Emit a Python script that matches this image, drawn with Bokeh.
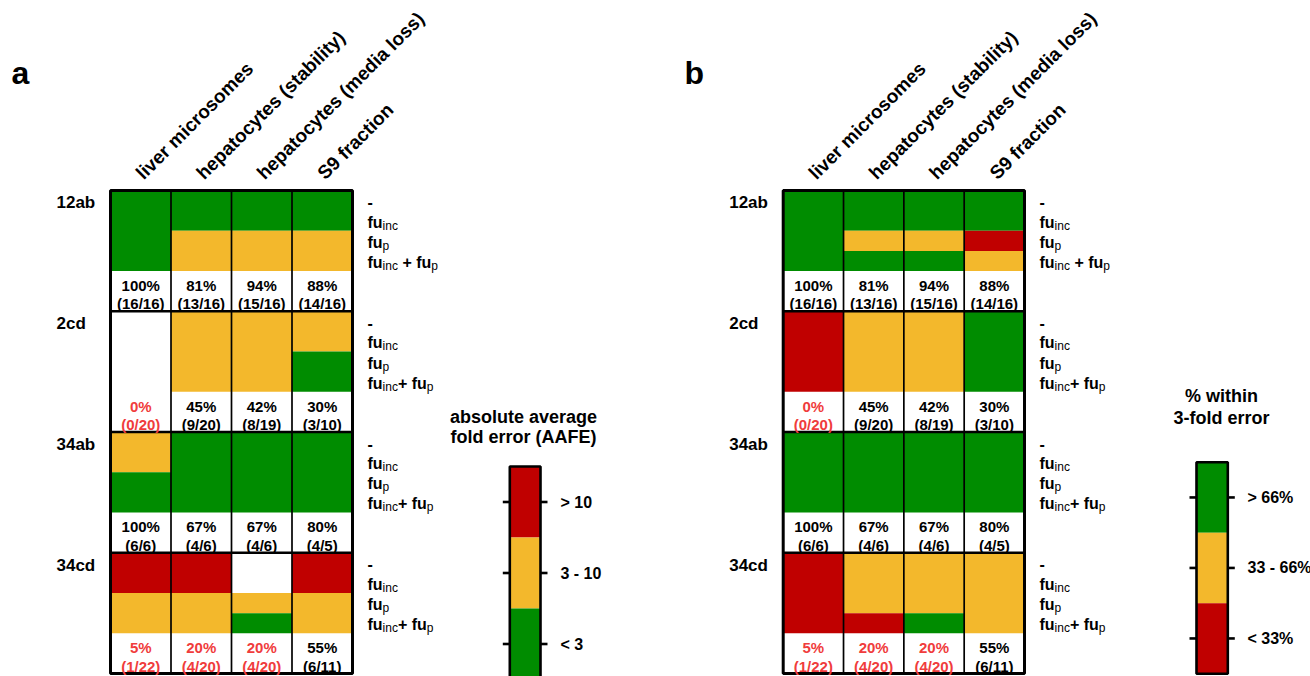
import re
import math
from bokeh.plotting import figure
from bokeh.layouts import row
from bokeh.models import ColumnDataSource, Range1d
from bokeh.core.properties import value
from bokeh.embed import file_html
from bokeh.resources import INLINE

FONT = "Liberation Sans"

# ---------------- data ----------------
columns = ["liver microsomes", "hepatocytes (stability)", "hepatocytes (media loss)", "S9 fraction"]
groups = ["12ab", "2cd", "34ab", "34cd"]
conditions_12ab = ["-", "fu_inc", "fu_p", "fu_inc + fu_p"]
conditions_other = ["-", "fu_inc", "fu_p", "fu_inc+ fu_p"]

# panel a: AAFE class per column (rows: -, fu_inc, fu_p, fu_inc+fu_p); 0 = no value, 1 = "< 3", 2 = "3 - 10", 3 = "> 10"
aafe_12ab = [[1, 1, 1, 1], [1, 1, 2, 2], [1, 1, 2, 2], [1, 1, 2, 2]]
aafe_2cd = [[0, 0, 0, 0], [2, 2, 2, 2], [2, 2, 2, 2], [2, 2, 1, 1]]
aafe_34ab = [[2, 2, 1, 1], [1, 1, 1, 1], [1, 1, 1, 1], [1, 1, 1, 1]]
aafe_34cd = [[3, 3, 2, 2], [3, 3, 2, 2], [0, 0, 2, 1], [3, 3, 2, 2]]
aafe_labels = ["> 10", "3 - 10", "< 3"]
aafe_label_codes = [3, 2, 1]

# panel b: % within 3-fold error; 1 = "> 66%", 2 = "33 - 66%", 3 = "< 33%"
within_12ab = [[1, 1, 1, 1], [1, 1, 2, 1], [1, 1, 2, 1], [1, 1, 3, 2]]
within_2cd = [[3, 3, 3, 3], [2, 2, 2, 2], [2, 2, 2, 2], [1, 1, 1, 1]]
within_34ab = [[1, 1, 1, 1], [1, 1, 1, 1], [1, 1, 1, 1], [1, 1, 1, 1]]
within_34cd = [[3, 3, 3, 3], [2, 2, 2, 3], [2, 2, 2, 1], [2, 2, 2, 2]]
within_labels = ["> 66%", "33 - 66%", "< 33%"]
within_label_codes = [1, 2, 3]

# compounds within 3-fold error per column
hits_12ab = [16, 13, 15, 14]
totals_12ab = [16, 16, 16, 16]
hits_2cd = [0, 9, 8, 3]
totals_2cd = [20, 20, 19, 10]
hits_34ab = [6, 4, 4, 4]
totals_34ab = [6, 6, 6, 5]
hits_34cd = [1, 4, 4, 6]
totals_34cd = [22, 20, 20, 11]
red_12ab = [False, False, False, False]
red_2cd = [True, False, False, False]
red_34ab = [False, False, False, False]
red_34cd = [True, True, True, False]

# ---------------- styles ----------------
GREEN, ORANGE, RED = "#008C00", "#F3B82C", "#C00000"
CODE_COLORS = {1: GREEN, 2: ORANGE, 3: RED}
RED_TEXT = "#F03C3C"

GRID_TOP, GRID_BOTTOM = 190.0, 673.0   # page px
ROWS_PER_GROUP = 6                      # 4 condition rows + 2 text rows
W, H = 655, 676

BOLD_W = {"f": 333, "u": 611, " ": 278, "+": 584, "-": 333}
REG_W = {"i": 222, "n": 556, "c": 500, "p": 556}


def text_width(s, size, table):
    return sum(table.get(ch, 556) for ch in s) * size / 1000.0


def pct_label(h, t):
    return "%d%%" % int(math.floor(100.0 * h / t + 0.5))


def build(spec, codes_by_group, cb_labels, cb_codes):
    ox, oy = spec["origin_x"], 0.0
    Lx = spec["grid_left"] - ox
    ux = (spec["grid_right"] - spec["grid_left"]) / len(columns)
    Ty = GRID_TOP - oy
    n_units = ROWS_PER_GROUP * len(groups)
    uy = (GRID_BOTTOM - GRID_TOP) / n_units

    def X(page_x):
        return (page_x - ox - Lx) / ux

    def Y(page_y):
        return (page_y - oy - Ty) / uy

    p = figure(width=W, height=H,
               x_range=Range1d(-Lx / ux, (W - Lx) / ux),
               y_range=Range1d((H - Ty) / uy, -Ty / uy),
               x_axis_type=None, y_axis_type=None,
               output_backend="svg", toolbar_location=None, min_border=0)
    p.outline_line_color = None
    p.background_fill_color = "white"
    p.border_fill_color = "white"

    # cells (merge runs of equal colour within a column)
    L, R, T, B, C = [], [], [], [], []
    for gi, g in enumerate(groups):
        for ci, col_codes in enumerate(codes_by_group[g]):
            ri = 0
            while ri < len(col_codes):
                code = col_codes[ri]
                rj = ri
                while rj + 1 < len(col_codes) and col_codes[rj + 1] == code:
                    rj += 1
                if code:
                    L.append(ci); R.append(ci + 1)
                    T.append(gi * ROWS_PER_GROUP + ri); B.append(gi * ROWS_PER_GROUP + rj + 1)
                    C.append(CODE_COLORS[code])
                ri = rj + 1
    p.quad(left=L, right=R, top=T, bottom=B, fill_color=C, line_color=None)

    ncol = len(columns)
    p.segment(x0=list(range(1, ncol)), x1=list(range(1, ncol)), y0=0, y1=n_units,
              line_color="black", line_width=1.7)
    seps = [ROWS_PER_GROUP * k for k in range(1, len(groups))]
    p.segment(x0=0, x1=ncol, y0=seps, y1=seps, line_color="black", line_width=2.6)
    p.quad(left=[0], right=[ncol], top=[0], bottom=[n_units], fill_color=None,
           line_color="black", line_width=3)

    # percentage texts
    xs, y1s, y2s, t1, t2, tc = [], [], [], [], [], []
    for gi, g in enumerate(groups):
        hits, totals, reds = stats[g]
        for ci in range(ncol):
            xs.append(ci + 0.5)
            y1s.append(gi * ROWS_PER_GROUP + 4 + 0.715)
            y2s.append(gi * ROWS_PER_GROUP + 4 + 1.63)
            t1.append(pct_label(hits[ci], totals[ci]))
            t2.append("(%d/%d)" % (hits[ci], totals[ci]))
            tc.append(RED_TEXT if reds[ci] else "black")
    src = ColumnDataSource(dict(x=xs, y1=y1s, y2=y2s, t1=t1, t2=t2, c=tc))
    for yk, tk in (("y1", "t1"), ("y2", "t2")):
        p.text(x="x", y=yk, text=tk, source=src, text_color="c",
               text_font=value(FONT), text_font_style="bold", text_font_size="15px",
               text_align="center", text_baseline="middle")

    # group labels
    p.text(x=[0] * len(groups), y=[gi * ROWS_PER_GROUP + 0.62 for gi in range(len(groups))],
           text=groups, x_offset=-54, text_font=value(FONT), text_font_style="bold",
           text_font_size="17px", text_align="left", text_baseline="middle",
           text_color="black")

    # column headers
    p.text(x=[ci + 0.5 for ci in range(ncol)], y=[0] * ncol, text=columns,
           angle=math.pi / 4, x_offset=-1.5, y_offset=-14.5,
           text_font=value(FONT), text_font_style="bold", text_font_size="19px",
           text_align="left", text_baseline="middle", text_color="black")

    # condition labels with subscripts
    main_x, main_y, main_t, main_o = [], [], [], []
    sub_x, sub_y, sub_t, sub_o = [], [], [], []
    MAIN, SUB = 16, 12
    for gi, g in enumerate(groups):
        conds = conditions_12ab if g == "12ab" else conditions_other
        for ri, lab in enumerate(conds):
            parts = re.split(r"_(\w+)", lab)
            off = 15.0
            for k, part in enumerate(parts):
                if not part:
                    continue
                yv = gi * ROWS_PER_GROUP + ri + 0.5
                if k % 2 == 0:
                    stripped = part.lstrip(" ")
                    off += text_width(part[:len(part) - len(stripped)], MAIN, BOLD_W)
                    main_x.append(ncol); main_y.append(yv); main_t.append(stripped); main_o.append(off)
                    off += text_width(stripped, MAIN, BOLD_W)
                else:
                    sub_x.append(ncol); sub_y.append(yv); sub_t.append(part); sub_o.append(off)
                    off += text_width(part, SUB, REG_W)
    p.text(x="x", y="y", text="t", x_offset="o", y_offset=1.5,
           source=ColumnDataSource(dict(x=main_x, y=main_y, t=main_t, o=main_o)),
           text_font=value(FONT), text_font_style="bold", text_font_size="%dpx" % MAIN,
           text_align="left", text_baseline="middle", text_color="black")
    p.text(x="x", y="y", text="t", x_offset="o", y_offset=5,
           source=ColumnDataSource(dict(x=sub_x, y=sub_y, t=sub_t, o=sub_o)),
           text_font=value(FONT), text_font_style="normal", text_font_size="%dpx" % SUB,
           text_align="left", text_baseline="middle", text_color="black")

    # colour bar
    cbL, cbR = X(spec["cb_left"]), X(spec["cb_right"])
    seg = spec["cb_seg"] / uy
    cb_top = Y(spec["cb_top"])
    tops = [cb_top + i * seg for i in range(len(cb_labels))]
    bots = [t + seg for t in tops]
    mids = [t + seg / 2 for t in tops]
    p.quad(left=cbL, right=cbR, top=tops, bottom=bots,
           fill_color=[CODE_COLORS[c] for c in cb_codes], line_color=None)
    p.quad(left=[cbL], right=[cbR], top=[tops[0]], bottom=[bots[-1]], fill_color=None,
           line_color="black", line_width=2.6)
    tick = 7.0 / ux
    p.segment(x0=cbL - tick, x1=cbL, y0=mids, y1=mids, line_color="black", line_width=2.6)
    p.segment(x0=cbR, x1=cbR + tick, y0=mids, y1=mids, line_color="black", line_width=2.6)
    p.text(x=[X(spec["cb_label_x"])] * len(cb_labels), y=mids, text=cb_labels,
           text_font=value(FONT), text_font_style="bold", text_font_size="16px",
           text_align="left", text_baseline="middle", text_color="black")
    p.text(x=[X(spec["title_x"])] * len(spec["title"]), y=[Y(v) for v in spec["title_y"]],
           text=spec["title"], text_font=value(FONT), text_font_style="bold",
           text_font_size="18px", text_align="center", text_baseline="middle",
           text_color="black")

    # panel letter
    p.text(x=[X(spec["letter_x"])], y=[Y(spec["letter_y"])], text=[spec["letter"]],
           text_font=value(FONT), text_font_style="bold", text_font_size="32px",
           text_align="left", text_baseline="middle", text_color="black")
    return p


stats = {
    "12ab": (hits_12ab, totals_12ab, red_12ab),
    "2cd": (hits_2cd, totals_2cd, red_2cd),
    "34ab": (hits_34ab, totals_34ab, red_34ab),
    "34cd": (hits_34cd, totals_34cd, red_34cd),
}

spec_a = dict(origin_x=0.0, grid_left=110.0, grid_right=352.0,
              cb_left=509.3, cb_right=540.0, cb_top=466.0, cb_seg=71.0, cb_label_x=560.0,
              title=["absolute average", "fold error (AAFE)"], title_x=523.0,
              title_y=[416.7, 436.7], letter="a", letter_x=11.0, letter_y=72.5)
spec_b = dict(origin_x=655.0, grid_left=782.7, grid_right=1024.0,
              cb_left=1196.0, cb_right=1227.3, cb_top=461.7, cb_seg=70.5, cb_label_x=1247.0,
              title=["% within", "3-fold error"], title_x=1221.0,
              title_y=[395.0, 417.3], letter="b", letter_x=684.0, letter_y=72.5)

pa = build(spec_a, {"12ab": aafe_12ab, "2cd": aafe_2cd, "34ab": aafe_34ab, "34cd": aafe_34cd},
           aafe_labels, aafe_label_codes)
pb = build(spec_b, {"12ab": within_12ab, "2cd": within_2cd, "34ab": within_34ab, "34cd": within_34cd},
           within_labels, within_label_codes)

layout = row(pa, pb, spacing=0)
open("out.html", "w").write(file_html(layout, INLINE))
